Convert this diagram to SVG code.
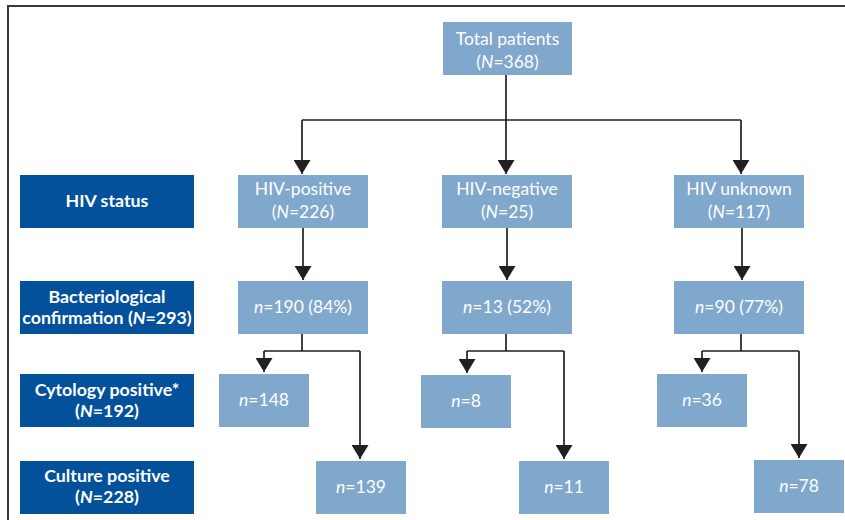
<svg xmlns="http://www.w3.org/2000/svg" width="845" height="520" viewBox="0 0 845 520">
<style>
.frame{fill:none;stroke:#3a3a3a;stroke-width:2}
.lb{fill:#80a7cc}
.db{fill:#03519b}
.t{font-family:Lato,"Open Sans","Liberation Sans",sans-serif;font-size:17.5px;fill:#ffffff;text-anchor:middle}
.b{font-weight:bold;font-size:17.8px}
.i{font-style:italic}
.c{fill:none;stroke:#231f20;stroke-width:1.7}
</style>
<defs>
<marker id="ah" viewBox="0 0 14 17" refX="14" refY="8.5" markerWidth="14" markerHeight="17" markerUnits="userSpaceOnUse" orient="auto">
<path d="M0,0 L14,8.5 L0,17 z" fill="#231f20"/>
</marker>
</defs>
<rect x="0" y="0" width="845" height="520" fill="#ffffff"/>
<path class="frame" d="M8,520 V6 H845"/>

<g id="connectors">
<path class="c" d="M506,75 V120"/>
<path class="c" d="M302,120 H741"/>
<path class="c" d="M302,120 V174" marker-end="url(#ah)"/>
<path class="c" d="M506,120 V174" marker-end="url(#ah)"/>
<path class="c" d="M741,120 V174" marker-end="url(#ah)"/>
<path class="c" d="M303,228 V280" marker-end="url(#ah)"/>
<path class="c" d="M507,228 V280" marker-end="url(#ah)"/>
<path class="c" d="M742,228 V280" marker-end="url(#ah)"/>
<path class="c" d="M302,334 V351 M264,351 H360"/>
<path class="c" d="M264,351 V372" marker-end="url(#ah)"/>
<path class="c" d="M360,351 V459" marker-end="url(#ah)"/>
<path class="c" d="M506,334 V351 M467,351 H564"/>
<path class="c" d="M467,351 V373" marker-end="url(#ah)"/>
<path class="c" d="M564,351 V459" marker-end="url(#ah)"/>
<path class="c" d="M741,334 V351 M702,351 H799"/>
<path class="c" d="M702,351 V372" marker-end="url(#ah)"/>
<path class="c" d="M799,351 V458" marker-end="url(#ah)"/>
</g>

<g id="total">
<rect class="lb" x="443" y="22" width="129" height="53"/>
<text class="t" x="507.5" y="45">Total patients</text>
<text class="t" x="507.5" y="68">(<tspan class="i">N</tspan>=368)</text>
</g>

<g id="label-hiv">
<rect class="db" x="20" y="175" width="174" height="53"/>
<text class="t b" x="107" y="207">HIV status</text>
</g>
<g id="label-bact">
<rect class="db" x="20" y="281" width="174" height="53"/>
<text class="t b" x="107" y="303">Bacteriological</text>
<text class="t b" x="107" y="324">confirmation (<tspan class="i">N</tspan>=293)</text>
</g>
<g id="label-cyto">
<rect class="db" x="20" y="374" width="174" height="53"/>
<text class="t b" x="107" y="396">Cytology positive*</text>
<text class="t b" x="107" y="417">(<tspan class="i">N</tspan>=192)</text>
</g>
<g id="label-cult">
<rect class="db" x="20" y="461" width="174" height="53"/>
<text class="t b" x="107" y="482">Culture positive</text>
<text class="t b" x="107" y="503">(<tspan class="i">N</tspan>=228)</text>
</g>

<g id="hiv-pos">
<rect class="lb" x="238" y="175" width="130" height="53"/>
<text class="t" x="303" y="195">HIV-positive</text>
<text class="t" x="303" y="218">(<tspan class="i">N</tspan>=226)</text>
</g>
<g id="hiv-neg">
<rect class="lb" x="442" y="175" width="130" height="53"/>
<text class="t" x="507" y="195">HIV-negative</text>
<text class="t" x="507" y="218">(<tspan class="i">N</tspan>=25)</text>
</g>
<g id="hiv-unk">
<rect class="lb" x="674" y="175" width="130" height="53"/>
<text class="t" x="739" y="195">HIV unknown</text>
<text class="t" x="739" y="218">(<tspan class="i">N</tspan>=117)</text>
</g>

<g id="bact-pos">
<rect class="lb" x="238" y="281" width="130" height="53"/>
<text class="t" x="303" y="313"><tspan class="i">n</tspan>=190 (84%)</text>
</g>
<g id="bact-neg">
<rect class="lb" x="442" y="281" width="130" height="53"/>
<text class="t" x="507" y="313"><tspan class="i">n</tspan>=13 (52%)</text>
</g>
<g id="bact-unk">
<rect class="lb" x="674" y="281" width="130" height="53"/>
<text class="t" x="739" y="313"><tspan class="i">n</tspan>=90 (77%)</text>
</g>

<g id="cyto-pos">
<rect class="lb" x="219" y="374" width="90" height="53"/>
<text class="t" x="264" y="406"><tspan class="i">n</tspan>=148</text>
</g>
<g id="cyto-neg">
<rect class="lb" x="421" y="375" width="90" height="53"/>
<text class="t" x="466" y="407"><tspan class="i">n</tspan>=8</text>
</g>
<g id="cyto-unk">
<rect class="lb" x="657" y="374" width="90" height="53"/>
<text class="t" x="702" y="406"><tspan class="i">n</tspan>=36</text>
</g>

<g id="cult-pos">
<rect class="lb" x="316" y="461" width="90" height="53"/>
<text class="t" x="361" y="493"><tspan class="i">n</tspan>=139</text>
</g>
<g id="cult-neg">
<rect class="lb" x="519" y="461" width="90" height="53"/>
<text class="t" x="564" y="493"><tspan class="i">n</tspan>=11</text>
</g>
<g id="cult-unk">
<rect class="lb" x="754" y="460" width="90" height="53"/>
<text class="t" x="799" y="492"><tspan class="i">n</tspan>=78</text>
</g>
</svg>
